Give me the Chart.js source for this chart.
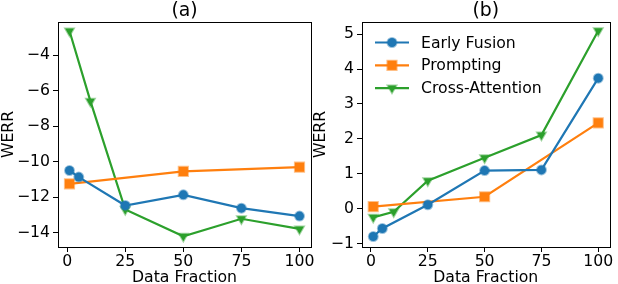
<!DOCTYPE html>
<html>
<head>
<meta charset="utf-8">
<script src="https://cdn.jsdelivr.net/npm/chart.js@4.4.1/dist/chart.umd.min.js"></script>
<style>
    body { margin: 0; background: #fff; }
    #wrap { position: relative; width: 618px; height: 284px; overflow: hidden; }
    canvas { position: absolute; top: 0; }
</style>
</head>
<body>
<div id="wrap">
    <canvas id="chartA" style="left:0px"></canvas>
    <canvas id="chartB" style="left:300px"></canvas>
</div>
<script>
// data
const xTicks = [0, 25, 50, 75, 100];
const yTicksA = [-14, -12, -10, -8, -6, -4];
const yTicksB = [-1, 0, 1, 2, 3, 4, 5];

const fusionX = [1, 5, 25, 50, 75, 100];
const promptX = [1, 50, 100];
const crossX = [1, 10, 25, 50, 75, 100];

const fusionA = [-10.49, -10.86, -12.46, -11.86, -12.61, -13.06];
const promptA = [-11.24, -10.54, -10.30];
const crossA = [-2.63, -6.58, -12.69, -14.20, -13.21, -13.78];

const fusionB = [-0.80, -0.57, 0.11, 1.09, 1.11, 3.74];
const promptB = [0.06, 0.34, 2.46];
const crossB = [-0.25, -0.09, 0.80, 1.46, 2.11, 5.10];

const seriesNames = ['Early Fusion', 'Prompting', 'Cross-Attention'];
const colors = ['#1f77b4', '#ff7f0e', '#2ca02c'];
const lightColors = ['rgba(31,119,180,0.45)', 'rgba(255,127,14,0.5)', 'rgba(44,160,44,0.45)'];
const markers = ['circle', 'rect', 'triangle'];
const markerSizes = [4.5, 6.5, 5];

const FONT = "'DejaVu Sans', sans-serif";
const FS = 15.7;

function toPoints(xs, ys) {
    return xs.map((x, i) => ({ x: x, y: ys[i] }));
}

function makeDatasets(f, p, c) {
    const vals = [[fusionX, f], [promptX, p], [crossX, c]];
    return vals.map((v, i) => ({
        label: seriesNames[i],
        data: toPoints(v[0], v[1]),
        borderColor: colors[i],
        backgroundColor: colors[i],
        borderWidth: 2.2,
        pointStyle: markers[i],
        pointRotation: i === 2 ? 180 : 0,
        pointRadius: markerSizes[i],
        pointBackgroundColor: colors[i],
        pointBorderColor: lightColors[i],
        pointBorderWidth: 2,
        tension: 0
    }));
}

const minus = v => String(v).replace('-', '\u2212');

// frame round the plot plus the title on top
const framePlugin = {
    id: 'frame',
    afterDraw(chart, args, opts) {
        const a = chart.chartArea;
        const ctx = chart.ctx;
        ctx.save();
        ctx.strokeStyle = '#000';
        ctx.lineWidth = 1;
        ctx.strokeRect(Math.round(a.left) + 0.5, Math.round(a.top) + 0.5,
            Math.round(a.right - a.left), Math.round(a.bottom - a.top));
        ctx.fillStyle = '#000';
        ctx.font = (FS * 1.2) + 'px ' + FONT;
        ctx.textAlign = 'center';
        ctx.textBaseline = 'middle';
        ctx.fillText(opts.title, (a.left + a.right) / 2, 11);
        ctx.restore();
    }
};

// matplotlib-like legend inside the plot area
const legendPlugin = {
    id: 'innerLegend',
    afterDraw(chart, args, opts) {
        if (!opts.show) return;
        const ctx = chart.ctx;
        const a = chart.chartArea;
        ctx.save();
        chart.data.datasets.forEach((ds, i) => {
            const y = a.top + 20.5 + i * 22.8;
            const x0 = a.left + 13;
            ctx.strokeStyle = ds.borderColor;
            ctx.lineWidth = 2.2;
            ctx.beginPath();
            ctx.moveTo(x0, y);
            ctx.lineTo(x0 + 34, y);
            ctx.stroke();
            ctx.fillStyle = ds.pointBackgroundColor;
            ctx.strokeStyle = ds.pointBorderColor;
            ctx.lineWidth = 2;
            Chart.helpers.drawPoint(ctx, {
                pointStyle: ds.pointStyle,
                rotation: ds.pointRotation,
                radius: ds.pointRadius,
                borderWidth: 2
            }, x0 + 17, y);
            ctx.fillStyle = '#000';
            ctx.font = FS + 'px ' + FONT;
            ctx.textAlign = 'left';
            ctx.textBaseline = 'middle';
            ctx.fillText(ds.label, x0 + 46, y + 1);
        });
        ctx.restore();
    }
};

function makeOptions(title, yTicks, yMin, yMax, yWidth, padLeft, padRight, legend) {
    return {
        responsive: false,
        animation: false,
        layout: { padding: { top: 22, left: padLeft, right: padRight, bottom: 0 } },
        plugins: {
            legend: { display: false },
            tooltip: { enabled: false },
            frame: { title: title },
            innerLegend: { show: legend }
        },
        scales: {
            x: {
                type: 'linear',
                min: -3.95,
                max: 104.95,
                afterBuildTicks: s => { s.ticks = xTicks.map(v => ({ value: v })); },
                afterFit: s => { s.height = 37; },
                grid: { drawOnChartArea: false, drawTicks: true, tickLength: 5, color: '#000' },
                border: { display: true, color: '#000' },
                ticks: { color: '#000', font: { family: FONT, size: FS }, padding: 1, maxRotation: 0 },
                title: { display: true, text: 'Data Fraction', color: '#000', font: { family: FONT, size: FS }, padding: { top: 0, bottom: -3 } }
            },
            y: {
                type: 'linear',
                min: yMin,
                max: yMax,
                afterBuildTicks: s => { s.ticks = yTicks.map(v => ({ value: v })); },
                afterFit: s => { s.width = yWidth; },
                grid: { drawOnChartArea: false, drawTicks: true, tickLength: 5, color: '#000' },
                border: { display: true, color: '#000' },
                ticks: { color: '#000', font: { family: FONT, size: FS }, padding: 3, callback: v => minus(v) },
                title: { display: true, text: 'WERR', color: '#000', font: { family: FONT, size: FS }, padding: 0 }
            }
        }
    };
}

const canvasA = document.getElementById('chartA');
canvasA.width = 330; canvasA.height = 284;
canvasA.style.width = '330px'; canvasA.style.height = '284px';
const canvasB = document.getElementById('chartB');
canvasB.width = 318; canvasB.height = 284;
canvasB.style.width = '318px'; canvasB.style.height = '284px';

const chartA = new Chart(canvasA, {
    type: 'line',
    data: { datasets: makeDatasets(fusionA, promptA, crossA) },
    options: makeOptions('(a)', yTicksA, -14.8, -2.12, 58, 0, 19, false),
    plugins: [framePlugin, legendPlugin]
});

const chartB = new Chart(canvasB, {
    type: 'line',
    data: { datasets: makeDatasets(fusionB, promptB, crossB) },
    options: makeOptions('(b)', yTicksB, -1.1, 5.35, 50, 12, 3, true),
    plugins: [framePlugin, legendPlugin]
});
</script>
</body>
</html>
